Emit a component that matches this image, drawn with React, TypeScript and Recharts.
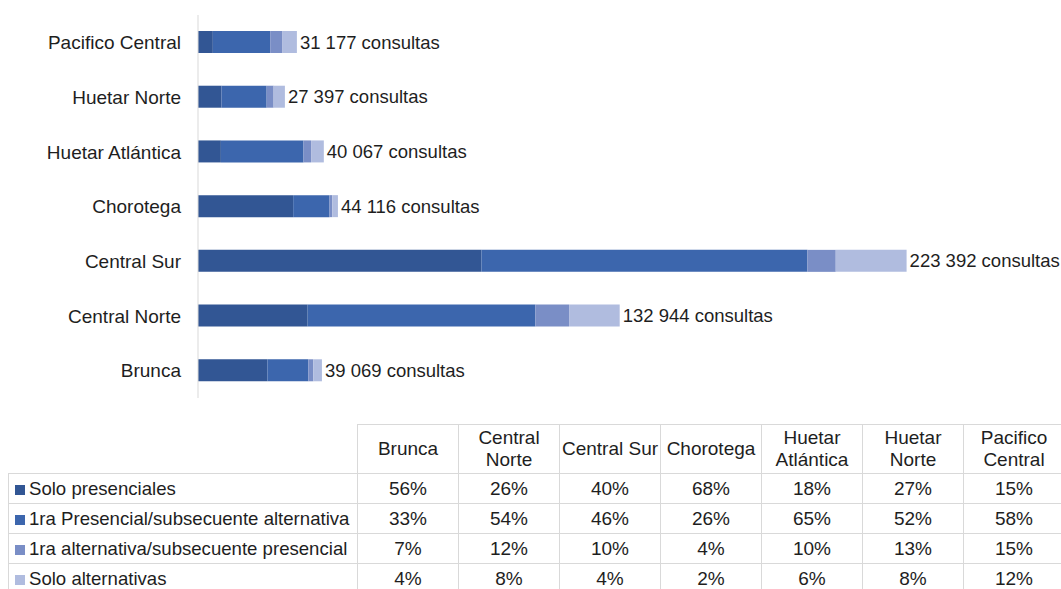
import React from 'react';
import { BarChart, Bar, XAxis, YAxis, LabelList } from 'recharts';

const regions = ['Brunca', 'Central Norte', 'Central Sur', 'Chorotega', 'Huetar Atlántica', 'Huetar Norte', 'Pacifico Central'];
const headerLines = [['Brunca'], ['Central', 'Norte'], ['Central Sur'], ['Chorotega'], ['Huetar', 'Atlántica'], ['Huetar', 'Norte'], ['Pacifico', 'Central']];
const totals = [39069, 132944, 223392, 44116, 40067, 27397, 31177];

const soloPresenciales = [56, 26, 40, 68, 18, 27, 15];
const presencialAlternativa = [33, 54, 46, 26, 65, 52, 58];
const alternativaPresencial = [7, 12, 10, 4, 10, 13, 15];
const soloAlternativas = [4, 8, 4, 2, 6, 8, 12];

const seriesNames = [
  'Solo presenciales',
  '1ra Presencial/subsecuente alternativa',
  '1ra alternativa/subsecuente presencial',
  'Solo alternativas',
];
const tableRows = [soloPresenciales, presencialAlternativa, alternativaPresencial, soloAlternativas];
const colors = ['#325694', '#3c66ad', '#7a8ec6', '#b0bcdf'];

const FONT = '"Liberation Sans", Arial, sans-serif';

const formatTotal = (n: number) => n.toString().replace(/\B(?=(\d{3})+(?!\d))/g, ' ') + ' consultas';

// bar segments are counts (share x total); the drawn order in the source puts
// "Solo alternativas" third and "1ra alternativa" last
const chartData = regions.map((r, i) => ({
  region: r,
  s1: (soloPresenciales[i] / 100) * totals[i],
  s2: (presencialAlternativa[i] / 100) * totals[i],
  s3: (soloAlternativas[i] / 100) * totals[i],
  s4: (alternativaPresencial[i] / 100) * totals[i],
}));

const TotalLabel = (props: any) => {
  const { x, y, width, height, index } = props;
  return (
    <text
      x={x + width + 3}
      y={y + height / 2}
      dominantBaseline="central"
      fill="#1e1e1e"
      fontSize={18.5}
      fontFamily={FONT}
    >
      {formatTotal(totals[index])}
    </text>
  );
};

const cellBorder = '1px solid #d9d9d9';

const App = () => {
  return (
    <div
      style={{
        position: 'absolute',
        top: 0,
        left: 0,
        width: 1061,
        height: 589,
        overflow: 'hidden',
        background: '#fff',
        fontFamily: FONT,
        color: '#1e1e1e',
      }}
    >
      <BarChart
        width={1061}
        height={400}
        data={chartData}
        layout="vertical"
        margin={{ top: 15, right: 70, bottom: 2, left: 0 }}
      >
        <XAxis type="number" hide domain={[0, 250000]} />
        <YAxis
          type="category"
          dataKey="region"
          reversed
          width={198}
          axisLine={{ stroke: '#d9d9d9' }}
          tickLine={false}
          tickSize={6}
          tickMargin={11}
          tick={{ fill: '#1e1e1e', fontSize: 19, fontFamily: FONT }}
        />
        <Bar dataKey="s1" stackId="a" fill={colors[0]} barSize={22} isAnimationActive={false} />
        <Bar dataKey="s2" stackId="a" fill={colors[1]} barSize={22} isAnimationActive={false} />
        <Bar dataKey="s3" stackId="a" fill={colors[2]} barSize={22} isAnimationActive={false} />
        <Bar dataKey="s4" stackId="a" fill={colors[3]} barSize={22} isAnimationActive={false}>
          <LabelList dataKey="s4" content={<TotalLabel />} />
        </Bar>
      </BarChart>

      <table
        style={{
          position: 'absolute',
          left: 8,
          top: 424,
          width: 1056,
          borderCollapse: 'collapse',
          tableLayout: 'fixed',
          fontSize: 19,
          color: '#1e1e1e',
        }}
      >
        <colgroup>
          <col style={{ width: 349 }} />
          {regions.map((r) => (
            <col key={r} style={{ width: 101 }} />
          ))}
        </colgroup>
        <tbody>
          <tr style={{ height: 49 }}>
            <td style={{ border: 'none', padding: 0 }} />
            {headerLines.map((lines, i) => (
              <td
                key={i}
                style={{ border: cellBorder, textAlign: 'center', padding: 0, lineHeight: '22px' }}
              >
                {lines.map((l, j) => (
                  <div key={j}>{l}</div>
                ))}
              </td>
            ))}
          </tr>
          {tableRows.map((row, ri) => (
            <tr key={ri} style={{ height: 30 }}>
              <td
                style={{
                  border: cellBorder,
                  padding: '0 0 0 6px',
                  whiteSpace: 'nowrap',
                  lineHeight: '18px',
                  height: 29,
                  fontSize: 18.6,
                }}
              >
                <span
                  style={{
                    display: 'inline-block',
                    width: 10,
                    height: 10,
                    background: colors[ri],
                    marginRight: 4,
                  }}
                />
                {seriesNames[ri]}
              </td>
              {row.map((v, ci) => (
                <td key={ci} style={{ border: cellBorder, textAlign: 'center', padding: 0, lineHeight: '18px', height: 29 }}>
                  {v}%
                </td>
              ))}
            </tr>
          ))}
        </tbody>
      </table>
    </div>
  );
};

export default App;
